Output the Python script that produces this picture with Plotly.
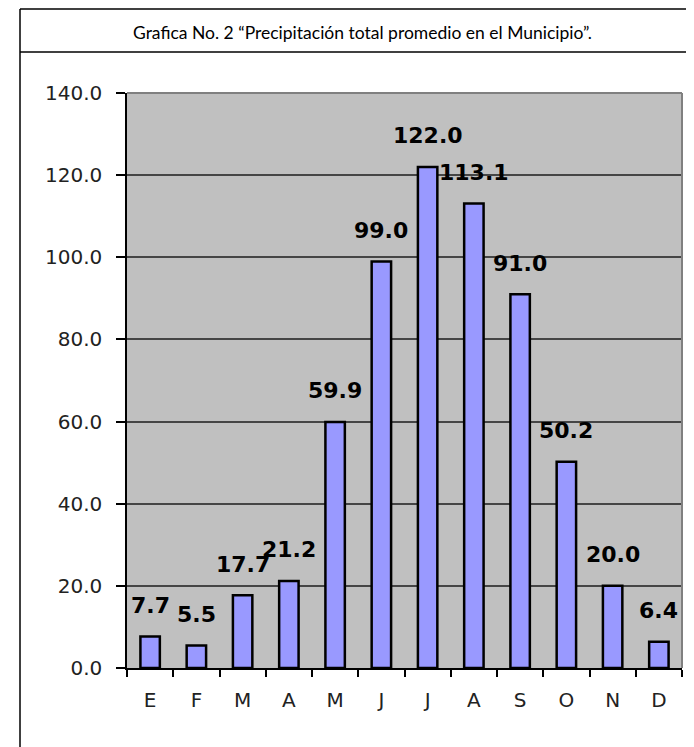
import plotly.graph_objects as go

months = ["Enero", "Febrero", "Marzo", "Abril", "Mayo", "Junio",
          "Julio", "Agosto", "Septiembre", "Octubre", "Noviembre", "Diciembre"]
tick_labels = ["E", "F", "M", "A", "M", "J", "J", "A", "S", "O", "N", "D"]
precip = [7.7, 5.5, 17.7, 21.2, 59.9, 99.0, 122.0, 113.1, 91.0, 50.2, 20.0, 6.4]
title_text = "Grafica No. 2 “Precipitación total promedio en el Municipio”."

OFF = 8  # default page body margin
SW, SH = 694, 747
W, H = SW - OFF, SH - OFF
# plot area in screen pixels: x 127..682, y 93..668
L = 127 - OFF
T = 93 - OFF
R = W - (682 - OFF)
B = H - (668 - OFF)
pw, ph = W - L - R, H - T - B

def px(x):
    return (x - OFF - L) / pw

def py(y):
    return (H - B - (y - OFF)) / ph

fig = go.Figure()
fig.add_trace(go.Bar(
    x=months, y=precip,
    marker=dict(color="#9999FF", line=dict(color="#000000", width=2.5)),
    hoverinfo="x+y",
))

for m, v in zip(months, precip):
    fig.add_annotation(x=m, y=v, text=f"<b>{v:.1f}</b>", showarrow=False,
                       yshift=31, xanchor="center", yanchor="middle",
                       font=dict(family="DejaVu Sans", size=22, color="#000000"))

fig.add_annotation(xref="paper", yref="paper", x=px(362), y=py(32),
                   text=title_text, showarrow=False, xanchor="center", yanchor="middle",
                   font=dict(family="Lato", size=17.5, color="#000000"))

shapes = [
    dict(type="line", xref="paper", yref="paper", x0=px(20), x1=px(20), y0=py(9), y1=py(SH + 4),
         line=dict(color="#000000", width=1.5)),
    dict(type="line", xref="paper", yref="paper", x0=px(20), x1=px(SW + 4), y0=py(9), y1=py(9),
         line=dict(color="#000000", width=1.5)),
    dict(type="line", xref="paper", yref="paper", x0=px(20), x1=px(SW + 4), y0=py(52), y1=py(52),
         line=dict(color="#000000", width=1.5)),
    dict(type="line", xref="x domain", yref="y domain", x0=0, x1=1, y0=1, y1=1,
         line=dict(color="#808080", width=2)),
    dict(type="line", xref="x domain", yref="y domain", x0=1, x1=1, y0=0, y1=1,
         line=dict(color="#808080", width=2)),
]

fig.update_layout(
    width=W, height=H,
    margin=dict(l=L, r=R, t=T, b=B, pad=0),
    paper_bgcolor="#FFFFFF",
    plot_bgcolor="#C0C0C0",
    showlegend=False,
    bargap=0.58,
    shapes=shapes,
    xaxis=dict(
        type="category",
        tickmode="array", tickvals=months, ticktext=tick_labels,
        tickson="boundaries",
        ticks="outside", ticklen=7, tickwidth=1.5, tickcolor="#000000",
        showline=True, linecolor="#000000", linewidth=1.5,
        showgrid=False,
        ticklabelstandoff=13,
        tickfont=dict(family="DejaVu Sans", size=20, color="#222222"),
        fixedrange=True,
    ),
    yaxis=dict(
        range=[0, 140], dtick=20, tick0=0, tickformat=".1f",
        ticks="outside", ticklen=9, tickwidth=1.5, tickcolor="#000000",
        showline=True, linecolor="#000000", linewidth=1.5,
        showgrid=True, gridcolor="#454545", gridwidth=1.6,
        zeroline=False,
        ticklabelstandoff=10,
        tickfont=dict(family="DejaVu Sans", size=20, color="#222222"),
        fixedrange=True,
    ),
)

fig.write_html("out.html")
